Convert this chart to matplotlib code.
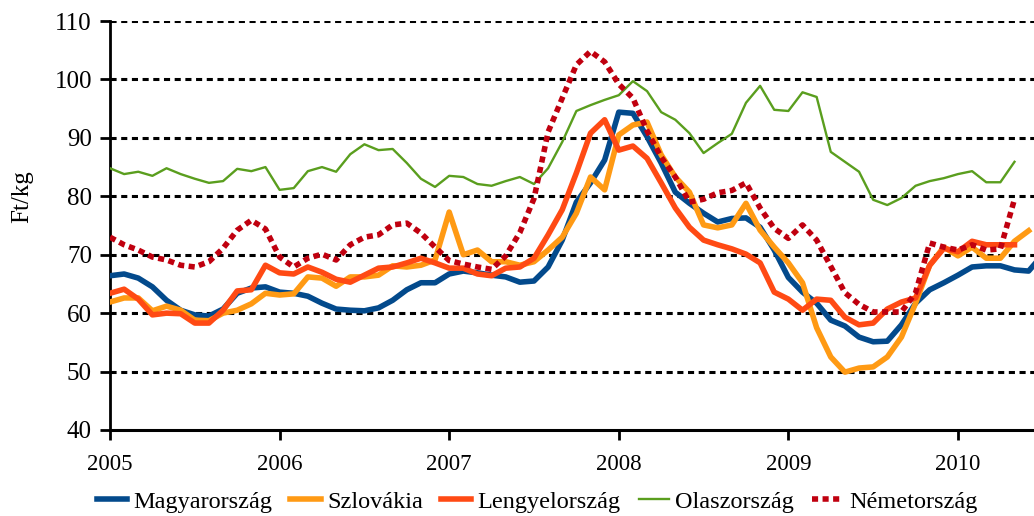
import numpy as np
import matplotlib
matplotlib.use( 'Agg' )
import matplotlib.pyplot as plt

plt.rcParams[ 'font.family' ] = [ 'Liberation Serif', 'DejaVu Serif' ]

# monthly prices, Jan 2005 onwards (Ft/kg)
magyarorszag = [
	66.4, 66.7, 66.0, 64.5, 62.2, 60.5, 59.7, 59.5, 60.7, 63.4, 64.3, 64.5,
	63.6, 63.4, 62.9, 61.7, 60.7, 60.5, 60.4, 60.9, 62.2, 64.0, 65.2, 65.2,
	66.7, 67.2, 66.9, 66.5, 66.2, 65.3, 65.5, 67.9, 72.5, 79.0, 82.3, 86.2,
	94.4, 94.2, 90.2, 85.7, 80.7, 78.8, 77.1, 75.6, 76.2, 76.3, 74.7, 70.8,
	66.1, 63.6, 61.7, 58.8, 57.8, 55.9, 55.1, 55.2, 58.0, 61.7, 64.0, 65.2,
	66.5, 67.9, 68.1, 68.1, 67.4, 67.2, 70.0 ]

szlovakia = [
	61.9, 62.6, 62.6, 60.4, 61.2, 60.5, 58.8, 58.7, 60.0, 60.5, 61.6, 63.4,
	63.1, 63.3, 66.2, 66.0, 64.6, 66.2, 66.2, 66.5, 68.1, 67.9, 68.2, 69.1,
	77.3, 70.0, 70.8, 68.8, 68.8, 68.2, 68.8, 70.8, 73.0, 77.1, 83.3, 81.1,
	90.5, 92.2, 92.7, 87.1, 83.3, 80.7, 75.1, 74.6, 75.1, 78.8, 74.2, 71.3,
	68.6, 65.2, 57.5, 52.5, 49.9, 50.6, 50.8, 52.5, 55.9, 61.7, 68.2, 71.3,
	69.8, 71.3, 69.4, 69.4, 72.3, 74.1 ]

lengyelorszag = [
	63.4, 64.1, 62.4, 59.7, 60.0, 59.9, 58.3, 58.3, 60.5, 63.8, 64.0, 68.2,
	66.9, 66.7, 67.9, 67.0, 65.8, 65.3, 66.5, 67.7, 67.9, 68.6, 69.4, 68.6,
	67.7, 67.7, 66.7, 66.4, 67.7, 67.9, 69.4, 73.4, 77.7, 84.0, 90.8, 93.1,
	87.9, 88.6, 86.5, 82.3, 78.0, 74.7, 72.5, 71.7, 71.0, 70.1, 68.6, 63.6,
	62.4, 60.5, 62.4, 62.2, 59.3, 58.0, 58.3, 60.7, 61.9, 62.6, 68.2, 71.1,
	70.5, 72.3, 71.7, 71.7, 71.7 ]

olaszorszag = [
	84.8, 83.8, 84.2, 83.5, 84.8, 83.8, 83.0, 82.3, 82.6, 84.7, 84.3, 85.0,
	81.1, 81.4, 84.3, 85.0, 84.2, 87.2, 88.9, 87.9, 88.1, 85.7, 83.0, 81.6,
	83.5, 83.3, 82.1, 81.8, 82.6, 83.3, 82.1, 84.8, 89.3, 94.6, 95.6, 96.5,
	97.3, 99.7, 98.0, 94.4, 93.1, 90.8, 87.4, 89.1, 90.7, 96.0, 98.9, 94.8,
	94.6, 97.8, 97.0, 87.6, 85.9, 84.2, 79.4, 78.5, 79.7, 81.8, 82.6, 83.1,
	83.8, 84.3, 82.4, 82.4, 85.9 ]

nemetorszag = [
	73.0, 71.7, 70.8, 69.6, 69.1, 68.2, 67.9, 68.8, 71.1, 74.2, 75.9, 74.4,
	69.6, 67.9, 69.4, 70.1, 69.1, 71.7, 73.0, 73.4, 75.1, 75.4, 73.7, 71.3,
	69.0, 68.4, 67.9, 67.5, 69.8, 73.8, 79.6, 91.0, 96.8, 102.5, 104.8, 103.0,
	99.2, 96.8, 91.2, 86.7, 83.3, 79.0, 79.5, 80.6, 81.0, 82.3, 78.0, 74.5,
	72.8, 75.1, 72.5, 68.0, 63.5, 61.5, 60.2, 60.2, 60.2, 63.5, 72.0, 71.3,
	70.8, 71.7, 70.8, 71.0, 79.5 ]

series = [
	( 'Magyarország',  magyarorszag,  '#034A8C', 4.0, '-' ),
	( 'Szlovákia',     szlovakia,     '#FF9A14', 4.0, '-' ),
	( 'Lengyelország', lengyelorszag, '#FF4A14', 4.0, '-' ),
	( 'Olaszország',   olaszorszag,   '#5A9E1E', 1.7, '-' ),
	( 'Németország',   nemetorszag,   '#C0000F', 4.0, ( 0, ( 1.1, 0.8 ) ) ),
]

years = [ 2005, 2006, 2007, 2008, 2009, 2010 ]

fig = plt.figure( figsize = ( 10.34, 5.16 ), dpi = 100 )
ax  = fig.add_axes( [ 110 / 1034, 86 / 516, 924 / 1034, 409 / 516 ] )

for y in range( 50, 111, 10 ):
	ax.axhline( y, color = 'k', linewidth = 2.2, dashes = ( 2.0, 1.5 ),
		dash_capstyle = 'butt', zorder = 1 )

for label, values, color, lw, ls in series:
	x = 2005 + np.arange( len( values ) ) / 12.0
	line, = ax.plot( x, values, color = color, linewidth = lw, linestyle = ls,
		label = label, zorder = 3, solid_joinstyle = 'round' )
	line.set_dash_capstyle( 'butt' )

ax.set_xlim( 2005, 2005 + 65.38 / 12 )
ax.set_ylim( 40, 110 )
ax.set_xticks( years )
ax.set_xticklabels( [ str( y ) for y in years ] )
ax.set_yticks( range( 40, 111, 10 ) )

for side in [ 'top', 'right' ]:
	ax.spines[ side ].set_visible( False )
ax.spines[ 'left' ].set_linewidth( 2.0 )
ax.spines[ 'bottom' ].set_linewidth( 2.2 )
ax.spines[ 'bottom' ].set_zorder( 5 )

ax.tick_params( axis = 'x', direction = 'out', length = 7, width = 2,
	labelsize = 16.5, pad = 10 )
ax.tick_params( axis = 'y', direction = 'out', length = 7, width = 2,
	labelsize = 18, pad = 6 )

ax.set_ylabel( 'Ft/kg', fontsize = 18 )
ax.yaxis.set_label_coords( -0.083, 0.57 )

ax.legend( loc = 'upper center', bbox_to_anchor = ( 427 / 924, -0.125 ),
	ncol = 5, frameon = False, fontsize = 17.5, handlelength = 1.25,
	handletextpad = 0.25, columnspacing = 0.75, borderaxespad = 0 )

plt.savefig( 'out.png', dpi = 100 )
plt.close()
